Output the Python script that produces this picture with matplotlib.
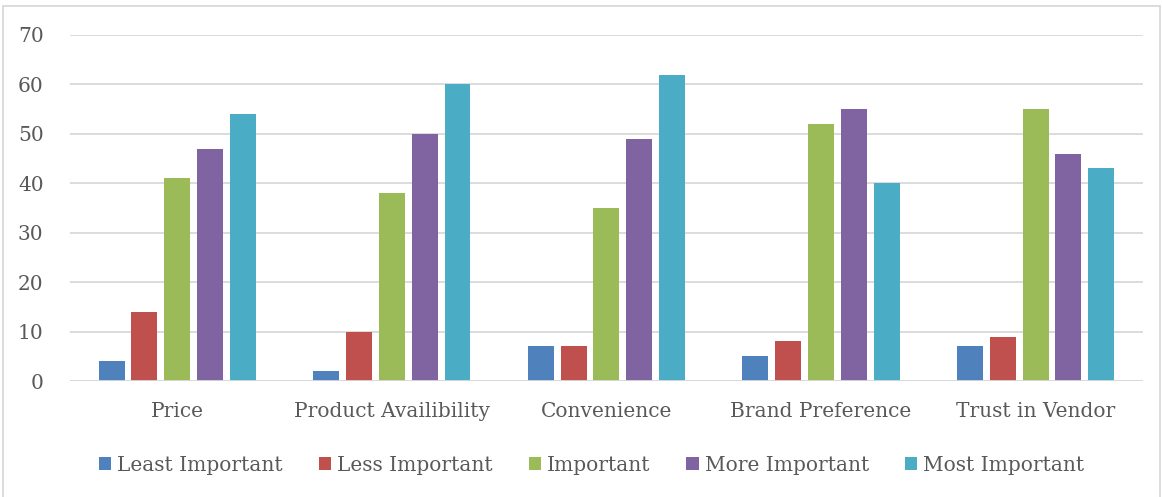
import numpy as np
import matplotlib.pyplot as plt
from matplotlib.patches import Rectangle

categories = ["Price", "Product Availibility", "Convenience", "Brand Preference", "Trust in Vendor"]
series_names = ["Least Important", "Less Important", "Important", "More Important", "Most Important"]
least_important = [4, 2, 7, 5, 7]
less_important = [14, 10, 7, 8, 9]
important = [41, 38, 35, 52, 55]
more_important = [47, 50, 49, 55, 46]
most_important = [54, 60, 62, 40, 43]
series = [least_important, less_important, important, more_important, most_important]
colors = ["#4F81BD", "#C0504D", "#9BBB59", "#8064A2", "#4BACC6"]

plt.rcParams["font.family"] = ["DejaVu Serif"]
text_color = "#595959"

fig = plt.figure(figsize=(11.62, 4.97), dpi=100)
ax = fig.add_axes([0.0602, 0.2334, 0.9234, 0.6962])

x = np.arange(len(categories))
step = 0.153
width = 0.121
for i, (vals, name, c) in enumerate(zip(series, series_names, colors)):
    ax.bar(x + (i - 2) * step, vals, width, color=c, label=name, zorder=3)

ax.set_xlim(-0.5, len(categories) - 0.5)
ax.set_ylim(0, 70)
ax.set_yticks(range(0, 71, 10))
ax.yaxis.grid(True, color="#D9D9D9", lw=1.3, zorder=0)
for s in ax.spines.values():
    s.set_visible(False)
ax.axhline(0, color="#D9D9D9", lw=1.3, zorder=4)
ax.set_xticks(x)
ax.set_xticklabels(categories)
ax.tick_params(axis="both", length=0, labelsize=14.5, colors=text_color)
ax.tick_params(axis="x", pad=15)
ax.tick_params(axis="y", pad=19)

fig.legend(loc="center", bbox_to_anchor=(0.509, 0.064), ncol=5, frameon=False,
           fontsize=14.5, handlelength=0.6, handleheight=0.6, handletextpad=0.3,
           columnspacing=1.8, labelcolor=text_color)

# outer chart frame
fig.patches.append(Rectangle((0.003, -0.01), 0.995, 0.997, transform=fig.transFigure,
                             fill=False, edgecolor="#D9D9D9", lw=1.3))

fig.savefig("out.png", dpi=100, facecolor="white")
